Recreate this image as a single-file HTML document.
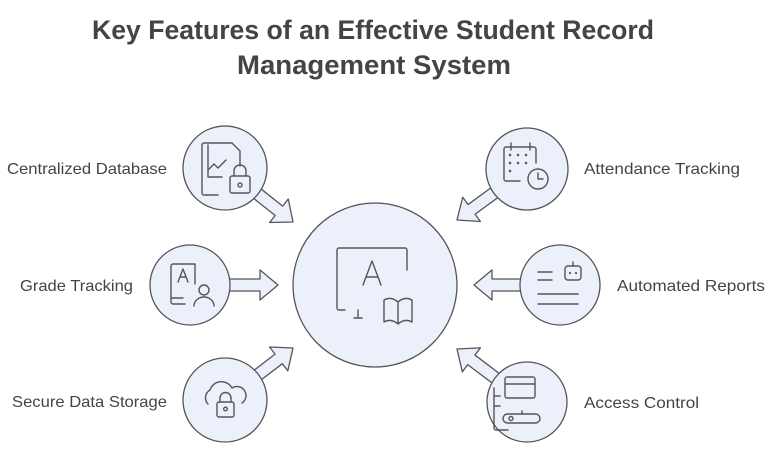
<!DOCTYPE html>
<html><head><meta charset="utf-8"><style>
html,body{margin:0;padding:0;background:#fff;}
svg{display:block;}
text{font-family:"Liberation Sans",sans-serif;}
</style></head><body>
<svg width="777" height="460" viewBox="0 0 777 460" xmlns="http://www.w3.org/2000/svg">
<defs>
<polygon id="arr" points="-52,-6 -18,-6 -18,-15 0,0 -18,15 -18,6 -52,6"/>
</defs>
<text x="373" y="39" font-size="27" font-weight="bold" fill="#444" text-anchor="middle" textLength="562" lengthAdjust="spacingAndGlyphs">Key Features of an Effective Student Record</text>
<text x="374" y="74" font-size="27" font-weight="bold" fill="#444" text-anchor="middle" textLength="274" lengthAdjust="spacingAndGlyphs">Management System</text>

<g fill="#ebf0fb" stroke="#555" stroke-width="1.3" stroke-linejoin="round">
<use href="#arr" transform="translate(293,222) rotate(38.5)"/>
<use href="#arr" transform="translate(278,285)"/>
<use href="#arr" transform="translate(293,348) rotate(-37.4)"/>
<use href="#arr" transform="translate(457,220) rotate(143.9)"/>
<use href="#arr" transform="translate(474,285) rotate(180)"/>
<use href="#arr" transform="translate(457,349) rotate(-142.9)"/>
<circle cx="375" cy="285" r="82"/>
<circle cx="225" cy="168" r="42"/>
<circle cx="190" cy="285" r="40"/>
<circle cx="225" cy="400" r="42"/>
<circle cx="527" cy="169" r="41"/>
<circle cx="560" cy="285" r="40"/>
<circle cx="527" cy="402" r="40"/>
</g>

<g fill="none" stroke="#555" stroke-width="1.4" stroke-linecap="round" stroke-linejoin="round">
<path d="M345,310 h-6 a2,2 0 0 1 -2,-2 v-58 a2,2 0 0 1 2,-2 h66 a2,2 0 0 1 2,2 v20"/>
<path d="M358,310 v8 M354,318 h8"/>
<path d="M363,285 l9,-24 l9,24 M366,277 h12"/>
<path d="M384,300 v22 q7,-4 14,2 q7,-6 14,-2 v-22 q-7,-4 -14,2 q-7,-6 -14,-2 z M398,302 v22"/>
<path d="M218,195 h-14 a2,2 0 0 1 -2,-2 v-48 a2,2 0 0 1 2,-2 h28 l8,8 v15"/>
<path d="M208,145 v32 h14 M208,170 l6,-6 l4,4 l8,-8"/>
<rect x="230" y="176" width="20" height="17" rx="2"/>
<path d="M234,176 v-5 a6,6 0 0 1 12,0 v5"/><circle cx="240" cy="185" r="2"/>
<path d="M185,304 h-12 a2,2 0 0 1 -2,-2 v-36 a2,2 0 0 1 2,-2 h22 v20 M171,298 h12"/>
<path d="M178,282 l5,-13 l5,13 M180,277 h6"/>
<circle cx="204" cy="290" r="5"/><path d="M194,306 a10,9 0 0 1 20,0"/>
<path d="M208,404 a9,9 0 0 1 2,-14 a12,12 0 0 1 22,-2 a9,9 0 0 1 10,15"/>
<rect x="217" y="402" width="17" height="15" rx="2"/>
<path d="M220,402 v-4 a5.5,5.5 0 0 1 11,0 v4"/><circle cx="225.5" cy="409" r="1.8"/>
<path d="M520,181 h-14 a2,2 0 0 1 -2,-2 v-30 a2,2 0 0 1 2,-2 h28 a2,2 0 0 1 2,2 v14 M511,143 v7 M530,143 v7"/>
<circle cx="538" cy="179" r="10"/><path d="M538,173 v6 h5"/>
<path d="M538,272 h14 M538,280 h14 M538,294 h40 M538,304 h40"/>
<rect x="565" y="266" width="16" height="14" rx="3"/><path d="M573,266 v-4"/>
<path d="M500,396 h-6 M500,406 h-6 M494,388 v40 a2,2 0 0 0 2,2 h12"/>
<rect x="505" y="377" width="30" height="21" rx="2"/><path d="M505,384 h30"/>
<rect x="503" y="414" width="37" height="9" rx="4.5"/><circle cx="511" cy="418.5" r="2"/><path d="M522,414 v-3"/>
</g>
<g fill="#555">
<circle cx="510" cy="155" r="1.3"/><circle cx="518" cy="155" r="1.3"/><circle cx="526" cy="155" r="1.3"/>
<circle cx="510" cy="163" r="1.3"/><circle cx="518" cy="163" r="1.3"/><circle cx="526" cy="163" r="1.3"/>
<circle cx="510" cy="171" r="1.3"/>
<circle cx="570" cy="273" r="1.1"/><circle cx="576" cy="273" r="1.1"/>
</g>

<g font-size="16" fill="#444" lengthAdjust="spacingAndGlyphs">
<text x="7" y="174" textLength="160" lengthAdjust="spacingAndGlyphs">Centralized Database</text>
<text x="20" y="291" textLength="113" lengthAdjust="spacingAndGlyphs">Grade Tracking</text>
<text x="12" y="407" textLength="155" lengthAdjust="spacingAndGlyphs">Secure Data Storage</text>
<text x="584" y="174" textLength="156" lengthAdjust="spacingAndGlyphs">Attendance Tracking</text>
<text x="617" y="291" textLength="148" lengthAdjust="spacingAndGlyphs">Automated Reports</text>
<text x="584" y="408" textLength="115" lengthAdjust="spacingAndGlyphs">Access Control</text>
</g>
</svg>
</body></html>
